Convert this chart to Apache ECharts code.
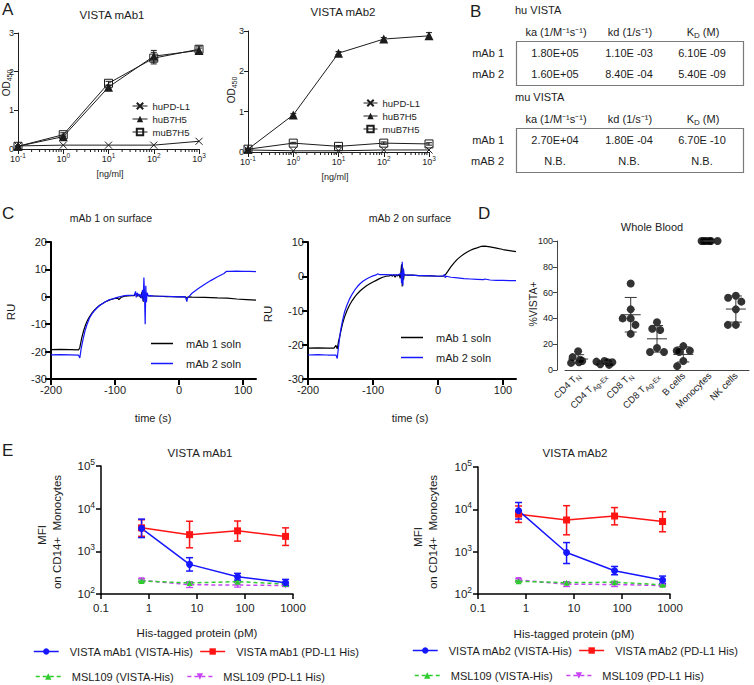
<!DOCTYPE html>
<html>
<head>
<meta charset="utf-8">
<script src="https://cdn.jsdelivr.net/npm/echarts@6.0.0/dist/echarts.min.js"></script>
<style>html,body{margin:0;padding:0;background:#fff;}#chart{width:754px;height:685px;}</style>
</head>
<body>
<div id="chart"></div>
<script>
// ===== Panel A: ELISA binding (OD450 vs ng/ml) =====
const aConc = [0.1, 1, 10, 100, 1000];
const aMab1PDL1 = [0.08, 0.10, 0.10, 0.10, 0.20];
const aMab1Hu = [0.07, 0.32, 1.60, 2.40, 2.55];
const aMab1HuErr = [0.01, 0.04, 0.05, 0.15, 0.06];
const aMab1Mu = [0.07, 0.37, 1.70, 2.35, 2.58];
const aMab1MuErr = [0.01, 0.05, 0.05, 0.15, 0.08];
const aMab2PDL1 = [0.05, 0.03, 0.03, 0.05, 0.05];
const aMab2Hu = [0.07, 0.92, 2.45, 2.80, 2.88];
const aMab2HuErr = [0.01, 0.03, 0.04, 0.04, 0.08];
const aMab2Mu = [0.07, 0.22, 0.14, 0.22, 0.20];
const aMab2MuErr = [0.01, 0.02, 0.02, 0.03, 0.03];
const aNames = ['huPD-L1', 'huB7H5', 'muB7H5'];

// ===== Panel B: kinetics table =====
const bHeaders = ['ka (1/M⁻¹s⁻¹)', 'kd (1/s⁻¹)', '{t|K}{s|D}{t| (M)}'];
const bHuRows = ['mAb 1', 'mAb 2'];
const bHuValues = [['1.80E+05', '1.10E -03', '6.10E -09'], ['1.60E+05', '8.40E -04', '5.40E -09']];
const bMuRows = ['mAb 1', 'mAB 2'];
const bMuValues = [['2.70E+04', '1.80E -04', '6.70E -10'], ['N.B.', 'N.B.', 'N.B.']];

// ===== Panel C: SPR sensorgrams [time (s), RU] =====
const cNames = ['mAb 1 soln', 'mAb 2 soln'];
const cLeftBlack = [[-200,-19.3],[-185,-19.2],[-170,-19.3],[-157,-19.4],[-155,-18.5],[-152,-15],[-149,-12.3],[-146,-10.2],[-143,-8.6],[-140,-7.3],[-136,-5.9],[-132,-4.8],[-128,-3.9],[-124,-3.1],[-120,-2.5],[-115,-1.8],[-110,-1.3],[-105,-0.9],[-100,-0.6],[-96,-0.5],[-94,-1],[-90,-0.1],[-85,0.2],[-80,0.3],[-75,0.4],[-70,0.4],[-67,1.2],[-65,0.2],[-63,0.8],[-60,-0.3],[-58,1.8],[-56,-1.8],[-54,1.5],[-52,0.4],[-50,0.6],[-47,0.3],[-44,0.3],[-40,0.3],[-30,0.2],[-20,0.1],[-10,0.1],[0,0],[10,0],[12,-0.6],[14,0],[20,-0.1],[40,-0.2],[60,-0.4],[75,-0.5],[90,-0.8],[105,-1],[120,-1.2]];
const cLeftBlue = [[-200,-21.2],[-185,-21.1],[-170,-21.2],[-157,-21.3],[-155,-22.3],[-153,-19],[-150,-15.5],[-147,-12.5],[-144,-10.2],[-140,-7.8],[-136,-6.2],[-132,-5],[-128,-4],[-124,-3.2],[-120,-2.5],[-115,-1.8],[-110,-1.2],[-105,-0.8],[-100,-0.5],[-95,-0.1],[-90,0.2],[-85,0.4],[-80,0.5],[-75,0.5],[-70,0.6],[-68,2],[-67,-0.2],[-65,1.4],[-63,0.2],[-61,1],[-59,-0.6],[-57,2.5],[-56,-1.5],[-55,7],[-54,1],[-53,-10],[-52,4],[-51,-2],[-50,1.5],[-48,0.3],[-45,0.4],[-40,0.3],[-30,0.2],[-20,0.2],[-10,0.1],[0,0],[9,0.1],[11,-0.8],[12,-1.8],[13,-0.5],[15,0],[20,1.3],[30,3],[40,4.6],[50,6],[60,7.3],[70,8.5],[74,9.3],[78,9.3],[90,9.4],[100,9.3],[110,9.3],[120,9.2]];
const cRightBlack = [[-200,-21],[-185,-20.9],[-170,-21],[-160,-21],[-157,-20.2],[-155,-21.2],[-153,-19],[-150,-16.5],[-147,-14],[-144,-12],[-140,-10],[-136,-8.4],[-132,-7.1],[-128,-6],[-124,-5.1],[-120,-4.3],[-115,-3.5],[-110,-2.8],[-105,-2.2],[-100,-1.7],[-95,-1.2],[-90,-0.7],[-85,-0.3],[-80,0],[-75,0.1],[-72,0.3],[-70,0],[-68,0.5],[-66,-0.3],[-64,0.4],[-62,0.1],[-60,0.6],[-58,-0.6],[-56,3.5],[-55,-3],[-54,2.5],[-53,-1],[-52,0.5],[-48,0.3],[-40,0.3],[-30,0.2],[-20,0.1],[-10,0.1],[0,0],[8,0],[10,0.2],[12,0.6],[15,1.4],[20,2.8],[25,4],[30,5],[35,5.8],[40,6.5],[45,7.1],[50,7.6],[55,8],[60,8.3],[66,8.7],[72,8.8],[80,8.6],[90,8.2],[100,7.8],[110,7.5],[120,7.2]];
const cRightBlue = [[-200,-23],[-185,-22.9],[-170,-23],[-157,-23],[-155,-24],[-153,-20.5],[-150,-16],[-147,-13],[-144,-10.6],[-140,-8.4],[-136,-6.6],[-132,-5.2],[-128,-4],[-124,-3],[-120,-2.2],[-115,-1.4],[-110,-0.8],[-105,-0.3],[-100,0.1],[-95,0.4],[-93,0.7],[-90,0.5],[-80,0.5],[-70,0.4],[-60,0.4],[-57,1],[-56,-2],[-55,4.2],[-54,-2.8],[-53,2],[-52,0.4],[-48,0.3],[-40,0.3],[-30,0.2],[-20,0.2],[-10,0.1],[0,0],[8,0.1],[10,0.5],[11,-0.4],[13,0],[20,-0.3],[30,-0.5],[40,-0.7],[50,-0.8],[60,-0.9],[70,-1],[72,-0.8],[80,-1.1],[90,-1.2],[100,-1.2],[110,-1.3],[120,-1.3]];

// ===== Panel D: %VISTA+ in whole blood =====
const dCats = ['CD4 T_N', 'CD4 T_Ag-Ex', 'CD8 T_N', 'CD8 T_Ag-Ex', 'B cells', 'Monocytes', 'NK cells'];
const dValues = [
  [14.5, 10, 8, 7, 6, 5.5],
  [7, 6.5, 6, 6, 4.5, 4],
  [67, 47, 40, 40, 35, 28],
  [37, 32, 31, 17, 14, 14],
  [18.5, 15, 15, 14, 7, 3],
  [100, 100, 100, 100, 100, 100],
  [57.5, 56, 53, 47, 35, 35]
];

// ===== Panel E: MFI on CD14+ monocytes =====
const eConc = [0.7, 7, 70, 700];
const e1Blue = [3450, 495, 254, 184], e1BlueLo = [2100, 345, 212, 156], e1BlueHi = [5700, 710, 305, 220];
const e1Red = [3550, 2460, 3020, 2240], e1RedLo = [2250, 1210, 1735, 1375], e1RedHi = [5500, 5070, 5140, 3550];
const e1Green = [201, 182, 195, 171], e1GreenLo = [192, 172, 185, 163], e1GreenHi = [212, 192, 205, 180];
const e1Purple = [210, 165, 162, 158], e1PurpleLo = [192, 142, 145, 150], e1PurpleHi = [230, 190, 185, 168];
const e2Blue = [9300, 955, 354, 213], e2BlueLo = [5900, 525, 285, 178], e2BlueHi = [14500, 1640, 447, 265];
const e2Red = [7700, 5600, 6950, 5150], e2RedLo = [4900, 2500, 4300, 2950], e2RedHi = [12000, 12200, 11000, 8800];
const e2Green = [200, 185, 190, 165], e2GreenLo = [192, 175, 180, 158], e2GreenHi = [210, 195, 200, 173];
const e2Purple = [215, 170, 168, 158], e2PurpleLo = [195, 150, 150, 150], e2PurpleHi = [230, 195, 190, 168];
const e1Names = ['VISTA mAb1 (VISTA-His)', 'VISTA mAb1 (PD-L1 His)', 'MSL109 (VISTA-His)', 'MSL109 (PD-L1 His)'];
const e2Names = ['VISTA mAb2 (VISTA-His)', 'VISTA mAb2 (PD-L1 His)', 'MSL109 (VISTA-His)', 'MSL109 (PD-L1 His)'];

// ================= rendering =================
const FONT = '"Liberation Sans", Arial, Helvetica, sans-serif';
const INK = '#1c1c1c';
const BLUE = '#1616ff', RED = '#ff1414', GREEN = '#2fcc2f', PURPLE = '#c845f5';
const X_PATH = 'path://M0,0L10,10M10,0L0,10';
const chart = echarts.init(document.getElementById('chart'), null, {renderer: 'svg', width: 754, height: 685});

function txt(x, y, text, size, o) {
  o = o || {};
  return {type: 'text', x: x, y: y, rotation: o.rot || 0, silent: true, z: 10,
    style: {text: text, fontSize: size, fontFamily: FONT, fill: o.color || INK,
      align: o.align || 'center', verticalAlign: o.va || 'middle',
      textAlign: o.align || 'center', textVerticalAlign: o.va || 'middle', rich: o.rich}};
}
function errBars(g, xs, lo, hi, color, cap, lw) {
  return {type: 'custom', xAxisIndex: g, yAxisIndex: g, silent: true, clip: false, z: 4,
    data: xs.map((x, i) => [x, lo[i], hi[i]]),
    renderItem: function (p, api) {
      const x = api.value(0);
      const a = api.coord([x, api.value(1)]), b = api.coord([x, api.value(2)]);
      const st = {stroke: color, lineWidth: lw};
      return {type: 'group', children: [
        {type: 'line', shape: {x1: a[0], y1: a[1], x2: b[0], y2: b[1]}, style: st},
        {type: 'line', shape: {x1: a[0] - cap, y1: a[1], x2: a[0] + cap, y2: a[1]}, style: st},
        {type: 'line', shape: {x1: b[0] - cap, y1: b[1], x2: b[0] + cap, y2: b[1]}, style: st}]};
    }};
}
const pairs = (xs, ys) => xs.map((x, i) => [x, ys[i]]);
const minus = (v, e) => v.map((x, i) => x - e[i]);
const plus = (v, e) => v.map((x, i) => x + e[i]);

// log minor ticks for panel A x axes
const aMinor = [];
for (let k = -1; k <= 2; k++) for (let m = 2; m <= 9; m++) aMinor.push(m * Math.pow(10, k));
function minorTicks(g) {
  return {type: 'custom', xAxisIndex: g, yAxisIndex: g, silent: true, clip: false,
    data: aMinor.map(v => [v, 0]),
    renderItem: function (p, api) {
      const c = api.coord([api.value(0), 0]);
      return {type: 'line', shape: {x1: c[0], y1: c[1], x2: c[0], y2: c[1] + 3}, style: {stroke: INK, lineWidth: 1}};
    }};
}
function aSeries(g, pd, hu, huErr, mu, muErr) {
  const ls = {color: INK, width: 1};
  return [
    {name: aNames[0], type: 'line', xAxisIndex: g, yAxisIndex: g, data: pairs(aConc, pd), symbol: X_PATH, symbolSize: 7,
      itemStyle: {color: '#fff', borderColor: INK, borderWidth: 1}, lineStyle: ls, z: 3},
    {name: aNames[1], type: 'line', xAxisIndex: g, yAxisIndex: g, data: pairs(aConc, hu), symbol: 'triangle', symbolSize: 9,
      itemStyle: {color: INK}, lineStyle: ls, z: 3},
    {name: aNames[2], type: 'line', xAxisIndex: g, yAxisIndex: g, data: pairs(aConc, mu), symbol: 'rect', symbolSize: 8,
      itemStyle: {color: 'rgba(255,255,255,0)', borderColor: INK, borderWidth: 1}, lineStyle: ls, z: 3},
    errBars(g, aConc, minus(hu, huErr), plus(hu, huErr), INK, 3, 1),
    errBars(g, aConc, minus(mu, muErr), plus(mu, muErr), INK, 3, 1),
    minorTicks(g)
  ];
}
function cSeries(g, black, blue) {
  return [
    {name: cNames[0], type: 'line', xAxisIndex: g, yAxisIndex: g, data: black, symbol: 'none', lineStyle: {color: '#000', width: 1.2}, itemStyle: {color: '#000'}},
    {name: cNames[1], type: 'line', xAxisIndex: g, yAxisIndex: g, data: blue, symbol: 'none', lineStyle: {color: BLUE, width: 1.2}, itemStyle: {color: BLUE}}
  ];
}
function eSeries(g, names, d) {
  const mk = (name, vals, color, symbol, size, dashed, rot) => ({
    name: name, type: 'line', xAxisIndex: g, yAxisIndex: g, data: pairs(eConc, vals), symbol: symbol, symbolSize: size,
    symbolRotate: rot || 0, itemStyle: {color: color}, z: 5,
    lineStyle: {color: color, width: 1.5, type: dashed ? [4, 3] : 'solid'}});
  return [
    mk(names[3], d.purple, PURPLE, 'triangle', 6, true, 180),
    mk(names[2], d.green, GREEN, 'triangle', 6, true),
    mk(names[1], d.red, RED, 'rect', 7, false),
    mk(names[0], d.blue, BLUE, 'circle', 7, false),
    errBars(g, eConc, d.purpleLo, d.purpleHi, PURPLE, 3.5, 1.3),
    errBars(g, eConc, d.greenLo, d.greenHi, GREEN, 3.5, 1.3),
    errBars(g, eConc, d.redLo, d.redHi, RED, 3.5, 1.5),
    errBars(g, eConc, d.blueLo, d.blueHi, BLUE, 3.5, 1.5)
  ];
}

// ---------- axes ----------
const supRich = (fs, sfs) => ({p: {fontSize: sfs, lineHeight: Math.round(sfs) + 1, verticalAlign: 'top', color: INK, fontFamily: FONT}});
const expLabel = v => '10{p|' + Math.round(Math.log10(v)) + '}';
function aX(g) {
  return {gridIndex: g, type: 'log', logBase: 10, min: 0.1, max: 1000,
    axisLine: {onZero: false, lineStyle: {color: INK, width: 1}}, axisTick: {length: 5, lineStyle: {color: INK}},
    splitLine: {show: false},
    axisLabel: {fontSize: 9, color: INK, margin: 3, lineHeight: 13, formatter: expLabel, rich: supRich(9, 6.5)}};
}
function aY(g) {
  return {gridIndex: g, type: 'value', min: 0, max: 3, interval: 1, splitLine: {show: false},
    axisLine: {show: true, onZero: false, lineStyle: {color: INK, width: 1}}, axisTick: {show: true, length: 4, lineStyle: {color: INK}},
    axisLabel: {fontSize: 9, color: INK, margin: 4}};
}
function cX(g) {
  return {gridIndex: g, type: 'value', min: -200, max: 120, interval: 100, splitLine: {show: false},
    axisLine: {onZero: false, lineStyle: {color: '#000', width: 2}},
    axisTick: {length: 6, lineStyle: {color: '#000', width: 2}, customValues: [-200, -100, 0, 100]},
    axisLabel: {fontSize: 11, color: INK, margin: 5, customValues: [-200, -100, 0, 100]}};
}
function cY(g, max) {
  return {gridIndex: g, type: 'value', min: -30, max: max, interval: 10, splitLine: {show: false},
    axisLine: {show: true, onZero: false, lineStyle: {color: '#000', width: 2}}, axisTick: {show: true, length: 6, lineStyle: {color: '#000', width: 2}},
    axisLabel: {fontSize: 11, color: INK, margin: 4}};
}
function eX(g) {
  return {gridIndex: g, type: 'log', logBase: 10, min: 0.1, max: 1000, splitLine: {show: false},
    axisLine: {onZero: false, lineStyle: {color: '#000', width: 1.5}}, axisTick: {length: 5, lineStyle: {color: '#000', width: 1.5}},
    axisLabel: {fontSize: 11.5, color: INK, margin: 8, formatter: v => String(parseFloat(Number(v).toPrecision(6)))}};
}
function eY(g) {
  return {gridIndex: g, type: 'log', logBase: 10, min: 100, max: 100000, splitLine: {show: false},
    axisLine: {show: true, onZero: false, lineStyle: {color: '#000', width: 1.5}}, axisTick: {show: true, length: 5, lineStyle: {color: '#000', width: 1.5}},
    axisLabel: {fontSize: 11.5, color: INK, margin: 6, lineHeight: 17, formatter: expLabel, rich: supRich(11.5, 8.5)}};
}

// ---------- panel D ----------
const dScatter = [];
dValues.forEach((arr, i) => arr.forEach(v => dScatter.push([i, v])));
const dStats = dValues.map((arr, i) => {
  const m = arr.reduce((s, v) => s + v, 0) / arr.length;
  const sd = Math.sqrt(arr.reduce((s, v) => s + (v - m) * (v - m), 0) / (arr.length - 1));
  return [i, m, m - sd, m + sd];
});

// ---------- graphic (panel letters, titles, axis names, table) ----------
const g = [];
g.push(txt(2, 9, 'A', 17, {align: 'left'}), txt(470, 11, 'B', 17, {align: 'left'}),
  txt(2, 213, 'C', 17, {align: 'left'}), txt(478, 213, 'D', 17, {align: 'left'}), txt(2, 450, 'E', 17, {align: 'left'}));
g.push(txt(112, 15, 'VISTA mAb1', 11.5), txt(343, 12, 'VISTA mAb2', 11.5));
g.push(txt(110, 174, '[ng/ml]', 9), txt(335, 177, '[ng/ml]', 9));
const odRich = {t: {fontSize: 10, lineHeight: 13, fill: INK, color: INK, fontFamily: FONT}, s: {fontSize: 7, lineHeight: 8, verticalAlign: 'bottom', fill: INK, color: INK, fontFamily: FONT}};
g.push(txt(6, 83, '{t|OD}{s|450}', 10, {rot: Math.PI / 2, rich: odRich}), txt(231, 90, '{t|OD}{s|450}', 10, {rot: Math.PI / 2, rich: odRich}));
// table B
const bCols = [556, 630, 703];
const bRich = {t: {fontSize: 11, lineHeight: 15, fill: INK, color: INK, fontFamily: FONT}, s: {fontSize: 8, lineHeight: 9, verticalAlign: 'bottom', fill: INK, color: INK, fontFamily: FONT}};
function table(title, top, rows, vals) {
  g.push(txt(515, top, title, 11, {align: 'left'}));
  bHeaders.forEach((h, j) => g.push(txt(bCols[j], top + 22, h, 11, {rich: bRich})));
  g.push({type: 'rect', shape: {x: 516.5, y: top + 31.5, width: 227, height: 44}, style: {fill: 'none', stroke: '#7a7a7a', lineWidth: 1.2}, silent: true});
  rows.forEach((r, i) => {
    const y = top + 43 + i * 21;
    g.push(txt(504, y, r, 11, {align: 'right'}));
    vals[i].forEach((v, j) => g.push(txt(bCols[j] - 1, y, v, 11)));
  });
}
table('hu VISTA', 10, bHuRows, bHuValues);
table('mu VISTA', 97, bMuRows, bMuValues);
// C
g.push(txt(111, 218, 'mAb 1 on surface', 10.5), txt(410, 218, 'mAb 2 on surface', 10.5));
g.push(txt(11, 312, 'RU', 11.5, {rot: Math.PI / 2}), txt(268, 314, 'RU', 11.5, {rot: Math.PI / 2}));
g.push(txt(153, 418, 'time (s)', 11), txt(410, 418, 'time (s)', 11));
// D
g.push(txt(652, 227, 'Whole Blood', 11), txt(533, 304, '%VISTA+', 10.5, {rot: Math.PI / 2}));
// E
g.push(txt(200, 453, 'VISTA mAb1', 11.5), txt(575, 453, 'VISTA mAb2', 11.5));
g.push(txt(42, 535, 'MFI', 11.5, {rot: Math.PI / 2}), txt(57, 532, 'on CD14+  Monocytes', 11.5, {rot: Math.PI / 2}));
g.push(txt(418, 537, 'MFI', 11.5, {rot: Math.PI / 2}), txt(433, 532, 'on CD14+  Monocytes', 11.5, {rot: Math.PI / 2}));
g.push(txt(197, 633, 'His-tagged protein (pM)', 11.5), txt(574, 634, 'His-tagged protein (pM)', 11.5));

const legendBase = {textStyle: {color: INK, fontFamily: FONT}, selectedMode: false, padding: 0};
const aLeg = {data: aNames, orient: 'vertical', itemWidth: 15, itemHeight: 8, itemGap: 3, lineStyle: {width: 1}, textStyle: {fontSize: 9.5, color: INK}};
const cLeg = {data: cNames, orient: 'vertical', icon: 'rect', itemWidth: 22, itemHeight: 1.5, itemGap: 9, textStyle: {fontSize: 11, color: INK, padding: [0, 0, 0, 8]}};
const eLeg = {itemWidth: 25, itemHeight: 8, lineStyle: {width: 1.5}, textStyle: {fontSize: 11, color: INK, padding: [0, 0, 0, 6]}};
const option = {
  animation: false,
  backgroundColor: '#fff',
  textStyle: {fontFamily: FONT, color: INK},
  grid: [
    {left: 18, top: 33, width: 181, height: 116},
    {left: 248, top: 31, width: 181, height: 121},
    {left: 51, top: 242, width: 205, height: 137},
    {left: 308, top: 242, width: 208, height: 137},
    {left: 565, top: 241, width: 184, height: 129},
    {left: 101, top: 466, width: 192, height: 128},
    {left: 478, top: 467, width: 192, height: 127}
  ],
  xAxis: [aX(0), aX(1), cX(2), cX(3),
    {gridIndex: 4, type: 'category', data: dCats, jitter: 22, jitterOverlap: false, jitterMargin: 0,
      axisLine: {lineStyle: {color: '#444', width: 1}}, axisTick: {alignWithLabel: true, length: 4, lineStyle: {color: '#444'}},
      axisLabel: {rotate: 45, interval: 0, margin: 4, fontSize: 9.5, color: INK,
        formatter: s => { const p = s.split('_'); return p[1] ? '{m|' + p[0] + '}{s|' + p[1] + '}' : '{m|' + p[0] + '}'; },
        rich: {m: {fontSize: 9.5, lineHeight: 14, color: INK, fontFamily: FONT}, s: {fontSize: 7, lineHeight: 8, verticalAlign: 'bottom', color: INK, fontFamily: FONT}}}},
    eX(5), eX(6)],
  yAxis: [aY(0), aY(1), cY(2, 20), cY(3, 10),
    {gridIndex: 4, type: 'value', min: 0, max: 100, interval: 20, offset: 8, splitLine: {show: false},
      axisLine: {show: true, lineStyle: {color: '#444', width: 1}}, axisTick: {show: true, length: 4, lineStyle: {color: '#444'}},
      axisLabel: {fontSize: 9, color: INK, margin: 4}},
    eY(5), eY(6)],
  legend: [
    Object.assign({}, legendBase, aLeg, {left: 132, top: 101}),
    Object.assign({}, legendBase, aLeg, {left: 363, top: 98, itemWidth: 14}),
    Object.assign({}, legendBase, cLeg, {left: 151, top: 338}),
    Object.assign({}, legendBase, cLeg, {left: 401, top: 332}),
    Object.assign({}, legendBase, eLeg, {data: [e1Names[0], e1Names[1]], left: 33, top: 646, itemGap: 6}),
    Object.assign({}, legendBase, eLeg, {data: [e1Names[2], e1Names[3]], left: 35, top: 671, itemGap: 13}),
    Object.assign({}, legendBase, eLeg, {data: [e2Names[0], e2Names[1]], left: 412, top: 645, itemGap: 6}),
    Object.assign({}, legendBase, eLeg, {data: [e2Names[2], e2Names[3]], left: 414, top: 670, itemGap: 13})
  ],
  graphic: g,
  series: [].concat(
    aSeries(0, aMab1PDL1, aMab1Hu, aMab1HuErr, aMab1Mu, aMab1MuErr),
    aSeries(1, aMab2PDL1, aMab2Hu, aMab2HuErr, aMab2Mu, aMab2MuErr),
    cSeries(2, cLeftBlack, cLeftBlue),
    cSeries(3, cRightBlack, cRightBlue),
    [
      {type: 'scatter', xAxisIndex: 4, yAxisIndex: 4, data: dScatter, symbolSize: 8, itemStyle: {color: '#000'}, z: 3},
      {type: 'custom', xAxisIndex: 4, yAxisIndex: 4, data: dStats, silent: true, clip: false, z: 4,
        renderItem: function (p, api) {
          const c = api.coord([api.value(0), api.value(1)]);
          const lo = api.coord([api.value(0), api.value(2)]), hi = api.coord([api.value(0), api.value(3)]);
          const st = {stroke: '#333', lineWidth: 1};
          return {type: 'group', children: [
            {type: 'line', shape: {x1: c[0] - 10, y1: c[1], x2: c[0] + 10, y2: c[1]}, style: st},
            {type: 'line', shape: {x1: c[0], y1: lo[1], x2: c[0], y2: hi[1]}, style: st},
            {type: 'line', shape: {x1: c[0] - 6, y1: lo[1], x2: c[0] + 6, y2: lo[1]}, style: st},
            {type: 'line', shape: {x1: c[0] - 6, y1: hi[1], x2: c[0] + 6, y2: hi[1]}, style: st}]};
        }}
    ],
    eSeries(5, e1Names, {blue: e1Blue, blueLo: e1BlueLo, blueHi: e1BlueHi, red: e1Red, redLo: e1RedLo, redHi: e1RedHi,
      green: e1Green, greenLo: e1GreenLo, greenHi: e1GreenHi, purple: e1Purple, purpleLo: e1PurpleLo, purpleHi: e1PurpleHi}),
    eSeries(6, e2Names, {blue: e2Blue, blueLo: e2BlueLo, blueHi: e2BlueHi, red: e2Red, redLo: e2RedLo, redHi: e2RedHi,
      green: e2Green, greenLo: e2GreenLo, greenHi: e2GreenHi, purple: e2Purple, purpleLo: e2PurpleLo, purpleHi: e2PurpleHi})
  )
};
chart.setOption(option);
</script>
</body>
</html>
